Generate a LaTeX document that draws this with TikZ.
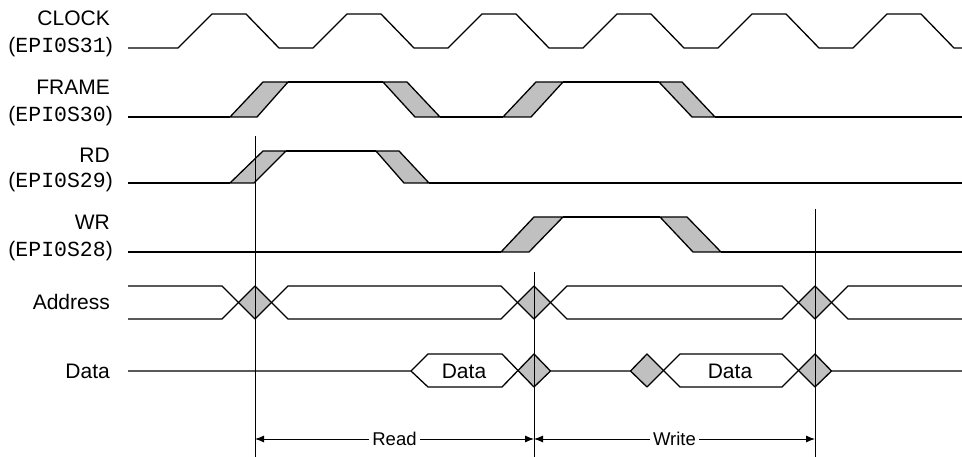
\documentclass[tikz,border=0pt]{standalone}
\usepackage{fontspec}
\setmainfont{Liberation Sans}
\setmonofont{Liberation Mono}
\usepackage{xcolor}
\usetikzlibrary{arrows.meta}
\definecolor{cgrey}{HTML}{C0C0C0}
\definecolor{cline}{HTML}{000000}
\newcommand{\pin}[1]{({\fontsize{21.5}{24}\selectfont\ttfamily #1})}

\begin{document}
\begin{tikzpicture}[
  x=1pt, y=-1pt,
  font=\fontsize{21}{24}\selectfont,
  >={Latex[length=9pt,width=7pt]},
  wave/.style={draw=cline, line width=1.3pt, line join=round},
  skew/.style={wave, fill=cgrey},
  guide/.style={draw=cline, line width=0.9pt},
  span/.style={<->, draw=cline, line width=0.9pt},
  sigtitle/.style={anchor=east, inner sep=0pt},
  pinlbl/.style={anchor=east, inner sep=0pt},
  spanlbl/.style={fill=white, inner sep=3pt, font=\fontsize{18.5}{22}\selectfont},
  buslbl/.style={inner sep=0pt},
]
\useasboundingbox (0,0) rectangle (962,457);

% labels
\node[sigtitle] (clk)   at (110,18)  {CLOCK};
\node[pinlbl]   (clkp)  at (113,47)  {\pin{EPI0S31}};
\node[sigtitle] (frm)   at (110,87)  {FRAME};
\node[pinlbl]   (frmp)  at (113,116) {\pin{EPI0S30}};
\node[sigtitle] (rd)    at (110,155) {RD};
\node[pinlbl]   (rdp)   at (113,182) {\pin{EPI0S29}};
\node[sigtitle] (wr)    at (110,222) {WR};
\node[pinlbl]   (wrp)   at (113,251) {\pin{EPI0S28}};
\node[sigtitle] (adr)   at (110,302) {Address};
\node[sigtitle] (dat)   at (110,371) {Data};

% grey transitions
\filldraw[skew] (230,117) -- (257,117) -- (288,82) -- (263,82) -- cycle;
\filldraw[skew] (383,82) -- (407,82) -- (440,117) -- (415,117) -- cycle;
\filldraw[skew] (503,117) -- (531,117) -- (563,82) -- (536,82) -- cycle;
\filldraw[skew] (659,82) -- (682,82) -- (715,117) -- (692,117) -- cycle;
\filldraw[skew] (230,183) -- (254,183) -- (286,151) -- (263,151) -- cycle;
\filldraw[skew] (376,151) -- (399,151) -- (429,183) -- (404,183) -- cycle;
\filldraw[skew] (501,252) -- (529,252) -- (563,217) -- (534,217) -- cycle;
\filldraw[skew] (660,217) -- (687,217) -- (721,252) -- (693,252) -- cycle;
\foreach \c in {255,534,815}
  \fill[cgrey] (\c-16.5,302.5) -- (\c,286) -- (\c+16.5,302.5) -- (\c,319) -- cycle;
\foreach \c in {534,647,815}
  \fill[cgrey] (\c-16.5,371) -- (\c,354) -- (\c+16.5,371) -- (\c,387) -- cycle;

% guides
\coordinate (g1) at (255,136);
\coordinate (g2) at (534,272);
\coordinate (g3) at (815,209);
\draw[guide] (g1) -- (255,457);
\draw[guide] (g2) -- (534,457);
\draw[guide] (g3) -- (815,457);

% clock
\draw[wave] (128,48) foreach \k in {0,...,5} {
    -- ({178+135*\k},48) -- ({212+135*\k},14)
    -- ({246+135*\k},14) -- ({279+135*\k},48) } -- (962,48);

% frame, rd, wr
\draw[wave] (128,117) -- (230,117) (288,82) -- (383,82)
  (440,117) -- (503,117) (563,82) -- (659,82) (715,117) -- (962,117);
\draw[wave] (128,183) -- (230,183) (286,151) -- (376,151) (429,183) -- (962,183);
\draw[wave] (128,252) -- (501,252) (563,217) -- (660,217) (721,252) -- (962,252);

% address
\draw[wave] (128,286) foreach \c in {255,534,815} {
    -- (\c-33,286) -- (\c,319) -- (\c+33,286) } -- (962,286);
\draw[wave] (128,319) foreach \c in {255,534,815} {
    -- (\c-33,319) -- (\c,286) -- (\c+33,319) } -- (962,319);

% data
\draw[wave] (128,371) -- (411,371) -- (428,354) -- (502,354) -- (534,387)
  -- (550.5,371) -- (630.5,371) -- (647,354) -- (680,387) -- (782,387)
  -- (815,354) -- (831.5,371) -- (962,371);
\draw[wave] (411,371) -- (428,387) -- (502,387) -- (534,354)
  -- (550.5,371) (630.5,371) -- (647,387) -- (680,354) -- (782,354)
  -- (815,387) -- (831.5,371);
\node[buslbl] (d1) at (464,371) {Data};
\node[buslbl] (d2) at (730,371) {Data};

% spans
\coordinate (s0) at (255,439);
\coordinate (s1) at (534,439);
\coordinate (s2) at (815,439);
\draw[span] (s0) -- node[spanlbl] (rdl) {Read} (s1);
\draw[span] (s1) -- node[spanlbl] (wrl) {Write} (s2);
\end{tikzpicture}
\end{document}
